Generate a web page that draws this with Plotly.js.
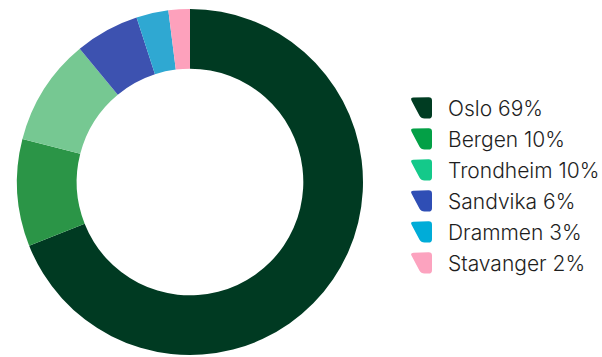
<!DOCTYPE html>
<html>
<head>
<meta charset="utf-8">
<script src="https://cdn.plot.ly/plotly-3.0.1.min.js"></script>
<style>html,body{margin:0;padding:0;background:#fff;}#chart{width:602px;height:357px;}</style>
</head>
<body>
<div id="chart"></div>
<script>
const cities = ["Oslo", "Bergen", "Trondheim", "Sandvika", "Drammen", "Stavanger"];
const shares = [69, 10, 10, 6, 3, 2];
const sliceColors = ["#003a22", "#2b9547", "#76c892", "#3d52b0", "#2fa8d2", "#fda1bc"];
const iconColors = ["#003c22", "#03a046", "#14c98a", "#2f4eb5", "#00acd8", "#fca3bf"];

const W = 602, H = 357;
const px = x => x / W;
const py = y => 1 - y / H;

function roundedPoly(pts, r) {
  let d = "";
  const n = pts.length;
  for (let i = 0; i < n; i++) {
    const p0 = pts[(i - 1 + n) % n], p1 = pts[i], p2 = pts[(i + 1) % n];
    const l1 = Math.hypot(p0[0] - p1[0], p0[1] - p1[1]);
    const l2 = Math.hypot(p2[0] - p1[0], p2[1] - p1[1]);
    const a = [p1[0] + (p0[0] - p1[0]) * r / l1, p1[1] + (p0[1] - p1[1]) * r / l1];
    const b = [p1[0] + (p2[0] - p1[0]) * r / l2, p1[1] + (p2[1] - p1[1]) * r / l2];
    d += (i === 0 ? "M" : "L") + px(a[0]) + "," + py(a[1]);
    d += " Q" + px(p1[0]) + "," + py(p1[1]) + " " + px(b[0]) + "," + py(b[1]) + " ";
  }
  return d + "Z";
}

const shapes = [], annotations = [];
cities.forEach((c, i) => {
  const cy = 102 + i * 32;
  const top = cy - 11, bot = cy + 11;
  const pts = [[410, top + 0.5], [432, top], [432, bot], [421, bot]];
  shapes.push({type: "path", xref: "paper", yref: "paper", path: roundedPoly(pts, 3.5),
    fillcolor: iconColors[i], line: {width: 0}});
  annotations.push({xref: "paper", yref: "paper", x: px(446), y: py(cy + 1), xanchor: "left", yanchor: "middle",
    showarrow: false, text: c + " " + shares[i] + "%",
    font: {family: "Inter, 'Noto Sans', sans-serif", size: 21, weight: 300, color: "#1e1e1e"}});
});

const data = [{
  type: "pie",
  labels: cities,
  values: shares,
  sort: false,
  direction: "clockwise",
  rotation: 0,
  hole: 0.655,
  textinfo: "none",
  marker: {colors: sliceColors, line: {width: 0}},
  domain: {x: [17 / W, 363 / W], y: [0, 1]},
  showlegend: false
}];

const layout = {
  width: W, height: H,
  margin: {l: 0, r: 0, t: 9, b: 2},
  paper_bgcolor: "#ffffff",
  showlegend: false,
  shapes: shapes,
  annotations: annotations
};

Plotly.newPlot("chart", data, layout, {displayModeBar: false, staticPlot: true});
</script>
</body>
</html>
